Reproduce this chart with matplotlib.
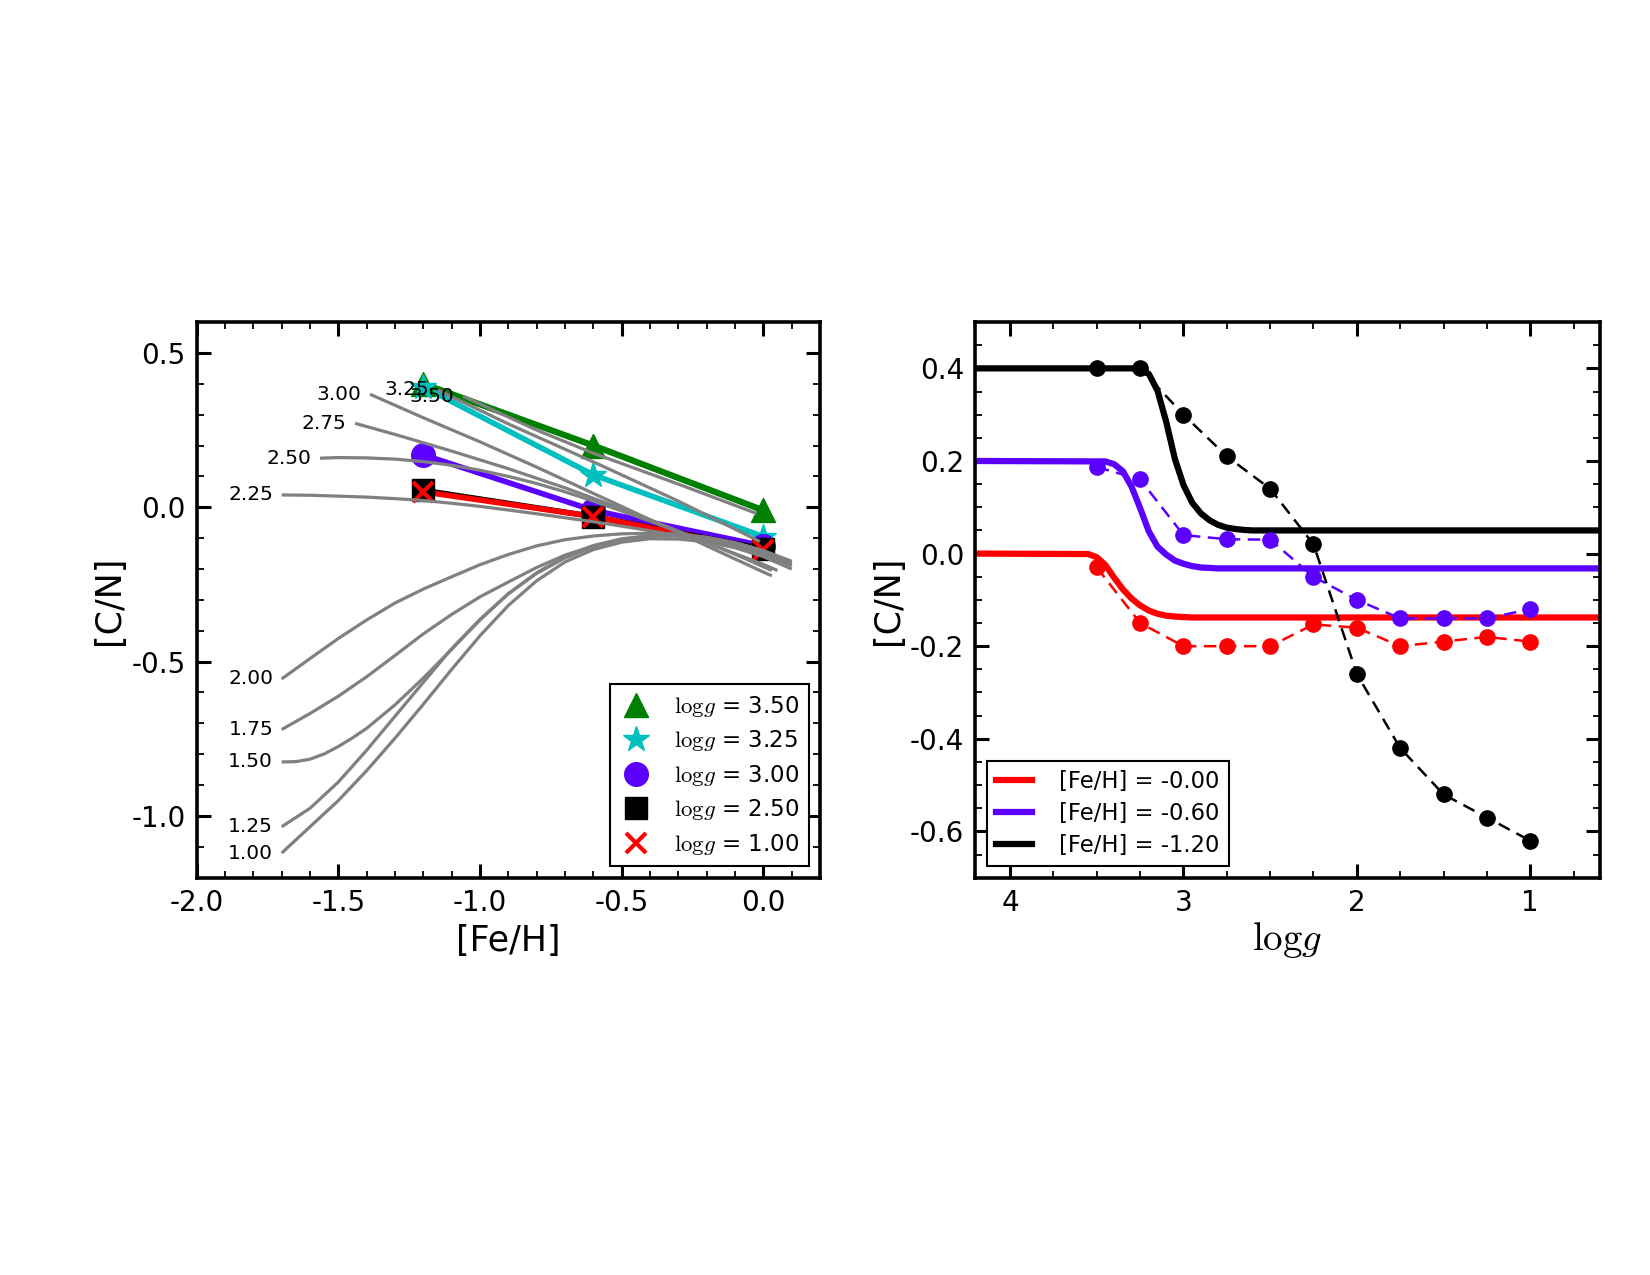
import matplotlib
matplotlib.use("Agg")
import matplotlib.pyplot as plt
from matplotlib.ticker import MultipleLocator, FormatStrFormatter

plt.rcParams['font.family'] = ['DejaVu Sans']
plt.rcParams['mathtext.fontset'] = 'cm'
plt.rcParams['axes.unicode_minus'] = False

# ---------------- Left panel data ----------------
feh_pts = [-1.2, -0.6, 0.0]
cn_logg350 = [0.40, 0.20, -0.01]
cn_logg325 = [0.39, 0.105, -0.095]
cn_logg300 = [0.17, -0.01, -0.125]
cn_logg250 = [0.055, -0.03, -0.135]
cn_logg100 = [0.05, -0.03, -0.14]
point_labels = ["3.50", "3.25", "3.00", "2.50", "1.00"]

# grey fitted curves
feh_grid = [-1.7, -1.6, -1.5, -1.4, -1.3, -1.2, -1.1, -1.0, -0.9, -0.8,
            -0.7, -0.6, -0.5, -0.4, -0.3, -0.2, -0.1, 0.0, 0.1]
curve_100 = [-1.12, -1.035, -0.950, -0.853, -0.748, -0.638, -0.525, -0.416, -0.318, -0.238,
             -0.177, -0.137, -0.113, -0.102, -0.103, -0.112, -0.131, -0.16, -0.2]
curve_125 = [-1.035, -0.975, -0.89, -0.787, -0.677, -0.567, -0.458, -0.363, -0.28, -0.212,
             -0.16, -0.124, -0.102, -0.092, -0.092, -0.1, -0.118, -0.145, -0.185]
feh_150 = [-1.7, -1.65, -1.6, -1.55, -1.5, -1.45, -1.4, -1.3, -1.2, -1.1, -1.0, -0.9,
           -0.8, -0.7, -0.6, -0.5, -0.4, -0.3, -0.2, -0.1, 0.0, 0.1]
curve_150 = [-0.825, -0.824, -0.816, -0.799, -0.775, -0.747, -0.716, -0.64, -0.553, -0.46,
             -0.365, -0.28, -0.214, -0.164, -0.128, -0.104, -0.094, -0.093, -0.102, -0.121,
             -0.15, -0.19]
curve_175 = [-0.72, -0.668, -0.612, -0.549, -0.48, -0.41, -0.347, -0.29, -0.242, -0.195,
             -0.155, -0.125, -0.104, -0.092, -0.09, -0.098, -0.115, -0.142, -0.18]
curve_200 = [-0.556, -0.49, -0.425, -0.365, -0.31, -0.265, -0.225, -0.186, -0.153, -0.125,
             -0.105, -0.093, -0.086, -0.084, -0.087, -0.097, -0.115, -0.14, -0.175]
curve_225 = [0.040, 0.039, 0.036, 0.033, 0.028, 0.022, 0.013, 0.003, -0.009, -0.021,
             -0.034, -0.047, -0.061, -0.076, -0.092, -0.11, -0.13, -0.155, -0.185]
feh_250 = [-1.565, -1.5, -1.4, -1.3, -1.2, -1.1, -1.0, -0.9, -0.8, -0.7,
           -0.6, -0.5, -0.4, -0.3, -0.2, -0.1, 0.0, 0.05]
curve_250 = [0.159, 0.161, 0.160, 0.156, 0.148, 0.136, 0.12, 0.10, 0.077, 0.05,
             0.02, -0.012, -0.045, -0.08, -0.115, -0.15, -0.185, -0.205]
feh_275 = [-1.441, -1.3, -1.1, -0.9, -0.7, -0.5, -0.3, -0.1, 0.03]
curve_275 = [0.272, 0.236, 0.182, 0.125, 0.063, -0.005, -0.077, -0.152, -0.205]
feh_300 = [-1.388, -1.2, -1.0, -0.8, -0.6, -0.4, -0.2, 0.0, 0.03]
curve_300 = [0.366, 0.29, 0.212, 0.13, 0.045, -0.04, -0.125, -0.21, -0.222]
feh_325 = [-1.15, -0.9, -0.576, -0.3, -0.012]
curve_325 = [0.38, 0.27, 0.137, 0.02, -0.111]
feh_350 = [-1.06, -0.8, -0.6, -0.3, -0.024]
curve_350 = [0.36, 0.25, 0.175, 0.075, -0.02]
curve_labels = ["1.00", "1.25", "1.50", "1.75", "2.00", "2.25",
                "2.50", "2.75", "3.00", "3.25", "3.50"]

# ---------------- Right panel data ----------------
logg_pts = [3.5, 3.25, 3.0, 2.75, 2.5, 2.25, 2.0, 1.75, 1.5, 1.25, 1.0]
cn_feh000 = [-0.03, -0.15, -0.20, -0.20, -0.20, -0.153, -0.16, -0.20, -0.19, -0.18, -0.19]
cn_feh060 = [0.187, 0.16, 0.04, 0.031, 0.03, -0.05, -0.10, -0.14, -0.14, -0.14, -0.12]
cn_feh120 = [0.40, 0.40, 0.30, 0.21, 0.14, 0.02, -0.26, -0.42, -0.52, -0.57, -0.62]

fit_logg_000 = [4.2, 3.55, 3.50, 3.45, 3.40, 3.35, 3.30, 3.25, 3.20, 3.15, 3.10, 3.05, 3.00, 2.95, 0.6]
fit_cn_000 = [0.0, -0.001, -0.008, -0.025, -0.052, -0.077, -0.097, -0.112, -0.123, -0.130,
              -0.134, -0.136, -0.137, -0.138, -0.138]
fit_logg_060 = [4.2, 3.45, 3.40, 3.35, 3.30, 3.25, 3.20, 3.15, 3.10, 3.05, 3.00, 2.95, 2.90, 2.85, 2.80, 0.6]
fit_cn_060 = [0.20, 0.199, 0.193, 0.178, 0.145, 0.098, 0.048, 0.015, -0.002, -0.015,
              -0.022, -0.027, -0.030, -0.031, -0.032, -0.032]
fit_logg_120 = [4.2, 3.30, 3.25, 3.20, 3.15, 3.10, 3.05, 3.00, 2.95, 2.90, 2.85, 2.80,
                2.75, 2.70, 2.65, 2.60, 0.6]
fit_cn_120 = [0.40, 0.400, 0.398, 0.388, 0.352, 0.285, 0.205, 0.148, 0.110, 0.087, 0.072,
              0.062, 0.056, 0.053, 0.051, 0.050, 0.050]
feh_labels = ["-0.00", "-0.60", "-1.20"]

PURPLE = '#5b00ff'
LOGG = r'$\mathrm{log}g$'

fig = plt.figure(figsize=(16.5, 12.75), dpi=100)
ax1 = fig.add_axes([0.1192, 0.3116, 0.3778, 0.4358])
ax2 = fig.add_axes([0.5912, 0.3116, 0.3782, 0.4358])


def style_axes(ax):
    for sp in ax.spines.values():
        sp.set_linewidth(2.6)
    ax.tick_params(which='both', direction='in', top=True, right=True)
    ax.tick_params(which='major', length=10, width=2.2, labelsize=20, pad=8)
    ax.tick_params(which='minor', length=5, width=1.3)


# ---------------- Left panel ----------------
series = [
    (cn_logg350, 'g', '^', 17, 4.5),
    (cn_logg325, 'c', '*', 19, 4.0),
    (cn_logg300, PURPLE, 'o', 17, 4.0),
    (cn_logg250, 'k', 's', 16, 4.0),
    (cn_logg100, 'r', 'x', 15, 4.0),
]
for (vals, col, mk, ms, lw), lab in zip(series, point_labels):
    ax1.plot(feh_pts, vals, '-', color=col, lw=lw, zorder=2)
    ax1.plot(feh_pts, vals, linestyle='none', marker=mk, ms=ms, color=col,
             mec=col, mew=3 if mk == 'x' else 1, zorder=3,
             label=LOGG + ' = ' + lab)

curve_sets = [
    (feh_grid, curve_100), (feh_grid, curve_125), (feh_150, curve_150),
    (feh_grid, curve_175), (feh_grid, curve_200), (feh_grid, curve_225),
    (feh_250, curve_250), (feh_275, curve_275), (feh_300, curve_300),
    (feh_325, curve_325), (feh_350, curve_350),
]
for (xs, ys), lab in zip(curve_sets, curve_labels):
    ax1.plot(xs, ys, '-', color='gray', lw=2.3, zorder=4, solid_capstyle='butt',
             solid_joinstyle='round')
    ax1.text(xs[0] - 0.03, ys[0], lab, ha='right', va='center', fontsize=14.5, zorder=6)

ax1.set_xlim(-2.0, 0.2)
ax1.set_ylim(-1.2, 0.6)
ax1.xaxis.set_major_locator(MultipleLocator(0.5))
ax1.xaxis.set_minor_locator(MultipleLocator(0.1))
ax1.yaxis.set_major_locator(MultipleLocator(0.5))
ax1.yaxis.set_minor_locator(MultipleLocator(0.1))
ax1.xaxis.set_major_formatter(FormatStrFormatter('%.1f'))
ax1.yaxis.set_major_formatter(FormatStrFormatter('%.1f'))
style_axes(ax1)
ax1.set_xlabel('[Fe/H]', fontsize=25, labelpad=5)
ax1.set_ylabel('[C/N]', fontsize=25, labelpad=4)
leg1 = ax1.legend(loc='lower right', numpoints=1, fontsize=16.5, fancybox=False,
                  edgecolor='black', framealpha=1, handlelength=1.5,
                  handletextpad=0.9, labelspacing=0.42, borderpad=0.4)
leg1.get_frame().set_linewidth(1.5)
leg1.set_zorder(10)

# ---------------- Right panel ----------------
fits = [(fit_logg_000, fit_cn_000, 'r'), (fit_logg_060, fit_cn_060, PURPLE),
        (fit_logg_120, fit_cn_120, 'k')]
for (xs, ys, col), lab in zip(fits, feh_labels):
    ax2.plot(xs, ys, '-', color=col, lw=4.5, zorder=2, label='[Fe/H] = ' + lab)
for vals, col in [(cn_feh000, 'r'), (cn_feh060, PURPLE), (cn_feh120, 'k')]:
    ax2.plot(logg_pts, vals, '--', color=col, lw=1.8, marker='o', ms=11,
             mec=col, zorder=3, dashes=(5, 3))

ax2.set_xlim(4.2, 0.6)
ax2.set_ylim(-0.7, 0.5)
ax2.xaxis.set_major_locator(MultipleLocator(1))
ax2.xaxis.set_minor_locator(MultipleLocator(0.25))
ax2.yaxis.set_major_locator(MultipleLocator(0.2))
ax2.yaxis.set_minor_locator(MultipleLocator(0.05))
ax2.xaxis.set_major_formatter(FormatStrFormatter('%d'))
ax2.yaxis.set_major_formatter(FormatStrFormatter('%.1f'))
style_axes(ax2)
ax2.set_xlabel(LOGG, fontsize=28, labelpad=2)
ax2.set_ylabel('[C/N]', fontsize=25, labelpad=4)
leg2 = ax2.legend(loc='lower left', fontsize=16.3, fancybox=False,
                  edgecolor='black', framealpha=1, handlelength=1.6,
                  handletextpad=1.2, labelspacing=0.4, borderpad=0.4)
leg2.get_frame().set_linewidth(1.5)

fig.savefig('out.png', dpi=100)
